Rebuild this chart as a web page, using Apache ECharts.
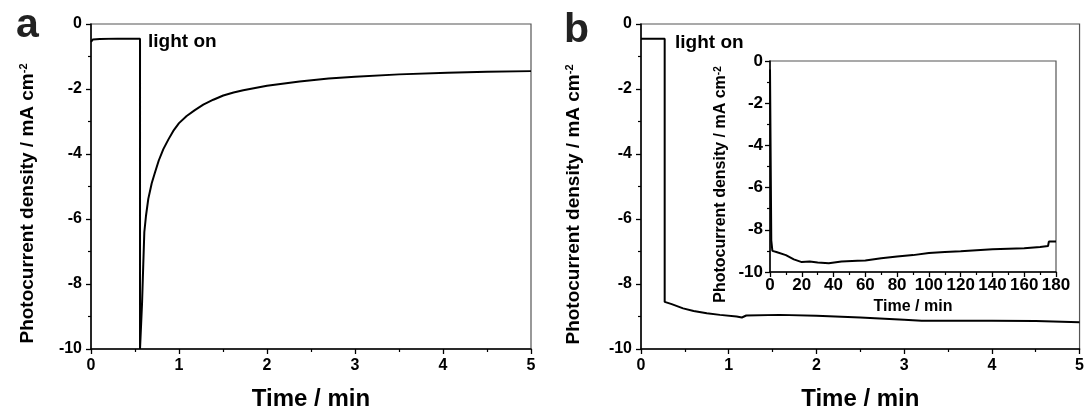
<!DOCTYPE html>
<html>
<head>
<meta charset="utf-8">
<script src="https://cdn.jsdelivr.net/npm/echarts@6/dist/echarts.min.js"></script>
<style>
  html, body { margin: 0; padding: 0; background: #fff; }
  #chart { width: 1087px; height: 416px; }
</style>
</head>
<body>
<div id="chart"></div>
<script>
// panel a: time (min) / photocurrent density (mA cm-2)
var timeA = [0, 0.02, 0.1, 0.3, 0.557, 0.557, 0.568, 0.58, 0.594, 0.606, 0.625, 0.651, 0.69, 0.727, 0.77, 0.822, 0.88, 0.935, 1.0, 1.087, 1.18, 1.276, 1.39, 1.503, 1.62, 1.73, 2.0, 2.37, 2.7, 3.0, 3.5, 4.05, 4.5, 5.0];
var currA = [-0.55, -0.48, -0.46, -0.45, -0.45, -10, -10, -8.6, -7.4, -6.4, -5.9, -5.38, -4.9, -4.57, -4.2, -3.85, -3.55, -3.29, -3.05, -2.83, -2.65, -2.48, -2.33, -2.2, -2.11, -2.04, -1.9, -1.77, -1.68, -1.62, -1.55, -1.5, -1.47, -1.45];

// panel b
var timeB = [0, 0.27, 0.27, 0.35, 0.48, 0.6, 0.75, 0.9, 1.09, 1.15, 1.2, 1.58, 2.0, 2.5, 3.0, 3.2, 4.0, 4.5, 4.9, 5.0];
var currB = [-0.45, -0.45, -8.55, -8.62, -8.75, -8.83, -8.9, -8.95, -9.0, -9.03, -8.97, -8.95, -8.98, -9.03, -9.1, -9.13, -9.13, -9.14, -9.17, -9.18];

// inset of panel b (long run)
var timeIn = [0, 0.5, 0.8, 1.5, 4, 10, 15, 20, 25, 30, 37, 45, 55, 60, 70, 80, 90, 100, 110, 120, 130, 140, 150, 160, 170, 175, 175.5, 180];
var currIn = [-0.4, -0.4, -8.5, -9.0, -9.05, -9.2, -9.4, -9.53, -9.5, -9.55, -9.58, -9.5, -9.47, -9.46, -9.35, -9.27, -9.2, -9.1, -9.05, -9.02, -8.97, -8.92, -8.9, -8.88, -8.82, -8.77, -8.56, -8.56];

var yTicks = [0, -2, -4, -6, -8, -10];

function pairs(xs, ys) {
  var out = [];
  for (var i = 0; i < xs.length; i++) out.push([xs[i], ys[i]]);
  return out;
}

var FONT = '"Liberation Sans", Arial, sans-serif';
var yName = 'Photocurrent density / mA cm{sup|-2}';

function xAx(grid, max, interval, size, margin, name, nameSize, nameGap) {
  return {
    type: 'value', gridIndex: grid, min: 0, max: max, interval: interval,
    name: name, nameLocation: 'middle', nameGap: nameGap,
    nameTextStyle: { fontFamily: FONT, fontWeight: 'bold', fontSize: nameSize, color: '#000' },
    axisLine: { onZero: false, lineStyle: { color: '#000', width: 1.5 } },
    axisTick: { inside: false, length: 5, lineStyle: { color: '#000', width: 1.3 } },
    minorTick: { show: true, splitNumber: 2, length: 3, lineStyle: { color: '#000', width: 1.2 } },
    splitLine: { show: false },
    axisLabel: { fontFamily: FONT, fontWeight: 'bold', fontSize: size, color: '#000', margin: margin }
  };
}

function yAx(grid, size, margin, nameSize, nameGap, pad) {
  return {
    type: 'value', gridIndex: grid, min: -10, max: 0, interval: 2,
    name: yName, nameLocation: 'middle', nameGap: nameGap,
    nameTextStyle: {
      fontFamily: FONT, fontWeight: 'bold', fontSize: nameSize, color: '#000',
      lineHeight: nameSize, padding: [0, pad, 0, 0],
      rich: { sup: { fontFamily: FONT, fontWeight: 'bold', fontSize: Math.round(nameSize * 0.6), verticalAlign: 'top', color: '#000' } }
    },
    axisLine: { onZero: false, lineStyle: { color: '#000', width: 1.5 } },
    axisTick: { inside: false, length: 5, lineStyle: { color: '#000', width: 1.3 } },
    minorTick: { show: true, splitNumber: 2, length: 3, lineStyle: { color: '#000', width: 1.2 } },
    splitLine: { show: false },
    axisLabel: {
      fontFamily: FONT, fontWeight: 'bold', fontSize: size, color: '#000', margin: margin,
      formatter: function (v) { return yTicks.indexOf(v) >= 0 ? String(v) : ''; }
    }
  };
}

function lineSeries(xi, data) {
  return {
    type: 'line', xAxisIndex: xi, yAxisIndex: xi, data: data,
    showSymbol: false, smooth: false, animation: false,
    lineStyle: { color: '#000', width: 2 }
  };
}

var chart = echarts.init(document.getElementById('chart'), null, { renderer: 'canvas' });

var option = {
  backgroundColor: '#fff',
  animation: false,
  grid: [
    { left: 91, top: 24, width: 440, height: 327, show: true, borderColor: '#555', borderWidth: 1.2 },
    { left: 641, top: 24, width: 439, height: 327, show: true, borderColor: '#555', borderWidth: 1.2 },
    { left: 770, top: 61, width: 286, height: 211, show: true, borderColor: '#555', borderWidth: 1.2, backgroundColor: 'rgba(255,255,255,0)' }
  ],
  xAxis: [
    xAx(0, 5, 1, 16, 9, 'Time / min', 24, 38),
    xAx(1, 5, 1, 16, 9, 'Time / min', 24, 38),
    xAx(2, 180, 20, 17, 5, 'Time / min', 16, 25)
  ],
  yAxis: [
    yAx(0, 16, 9, 19, 54, 34),
    yAx(1, 16, 9, 19, 58, 36),
    yAx(2, 17, 7, 16, 41, 36)
  ],
  series: [
    lineSeries(0, pairs(timeA, currA)),
    lineSeries(1, pairs(timeB, currB)),
    lineSeries(2, pairs(timeIn, currIn))
  ],
  graphic: [
    { type: 'text', left: 16, top: 5, style: { text: 'a', font: 'bold 41px ' + FONT, fill: '#222' } },
    { type: 'text', left: 564, top: 10, style: { text: 'b', font: 'bold 41px ' + FONT, fill: '#222' } },
    { type: 'text', x: 148, y: 42, style: { text: 'light on', font: 'bold 19px ' + FONT, fill: '#000', verticalAlign: 'middle' } },
    { type: 'text', x: 675, y: 43, style: { text: 'light on', font: 'bold 19px ' + FONT, fill: '#000', verticalAlign: 'middle' } }
  ]
};

chart.setOption(option);
</script>
</body>
</html>
